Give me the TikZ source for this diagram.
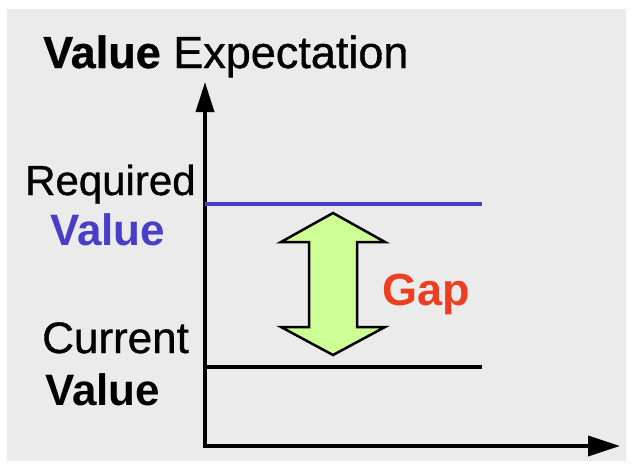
\documentclass[tikz,border=0pt]{standalone}
\usepackage{fontspec}
\setmainfont{Liberation Sans}
\newfontfamily\heavyfont{Liberation Sans}[FakeBold=0.8]
\usetikzlibrary{arrows.meta,calc,positioning}

\definecolor{bggray}{RGB}{235,235,235}
\definecolor{reqblue}{RGB}{72,62,200}
\definecolor{gapred}{RGB}{236,62,32}
\definecolor{gapgreen}{RGB}{206,255,150}

\begin{document}
\begin{tikzpicture}[x=1pt, y=-1pt,
  txtreg/.style={anchor=base west, inner sep=0pt, font=\fontsize{43}{50}\selectfont\heavyfont},
  txtbold/.style={anchor=base west, inner sep=0pt, font=\fontsize{44}{50}\selectfont\bfseries},
  axis/.style={line width=3.5pt, line join=miter,
    {Triangle[length=30pt, width=18pt]}-{Triangle[length=32pt, width=20pt]}},
  level/.style={line width=3.5pt}]
\useasboundingbox (0,0) rectangle (633,469);
\fill[white] (0,0) rectangle (633,469);
\fill[bggray] (7,9) rectangle (626,461);

% Axes
\coordinate (origin) at (205,446);
\coordinate (ytip) at (205,82);
\coordinate (xtip) at (620,446);
\draw[axis] (ytip) -- (origin) -- (xtip);

% Required and current levels
\coordinate (req0) at (205,204);
\coordinate (req1) at (482,204);
\coordinate (cur0) at (205,367);
\coordinate (cur1) at (482,367);
\draw[level, reqblue] (req0) -- (req1);
\draw[level, black] (cur0) -- (cur1);

% Gap arrow
\coordinate (gaptop) at (333,213);
\coordinate (gapbot) at (333,355);
\draw[fill=gapgreen, line width=2.5pt, line join=miter]
  (gaptop) -- ++(52,29) -- ++(-28,0) -- ++(0,85) -- ++(28,0) -- (gapbot)
  -- ++(-52,-28) -- ++(28,0) -- ++(0,-85) -- ++(-28,0) -- cycle;

% Labels
\node[txtreg, font=\fontsize{45}{50}\selectfont\heavyfont] (title) at (43,68) {{\bfseries Value} Expectation};
\node[txtreg, font=\fontsize{42}{50}\selectfont\heavyfont] (reqtxt) at (25,195) {Required};
\node[txtbold, text=reqblue] (reqval) at (50,245) {Value};
\node[txtreg, font=\fontsize{44}{50}\selectfont\heavyfont] (curtxt) at (42,353) {Current};
\node[txtbold] (curval) at (45,405) {Value};
\node[txtbold, font=\fontsize{45}{50}\selectfont\bfseries, text=gapred] (gaptxt) at (382,305) {Gap};
\end{tikzpicture}
\end{document}
